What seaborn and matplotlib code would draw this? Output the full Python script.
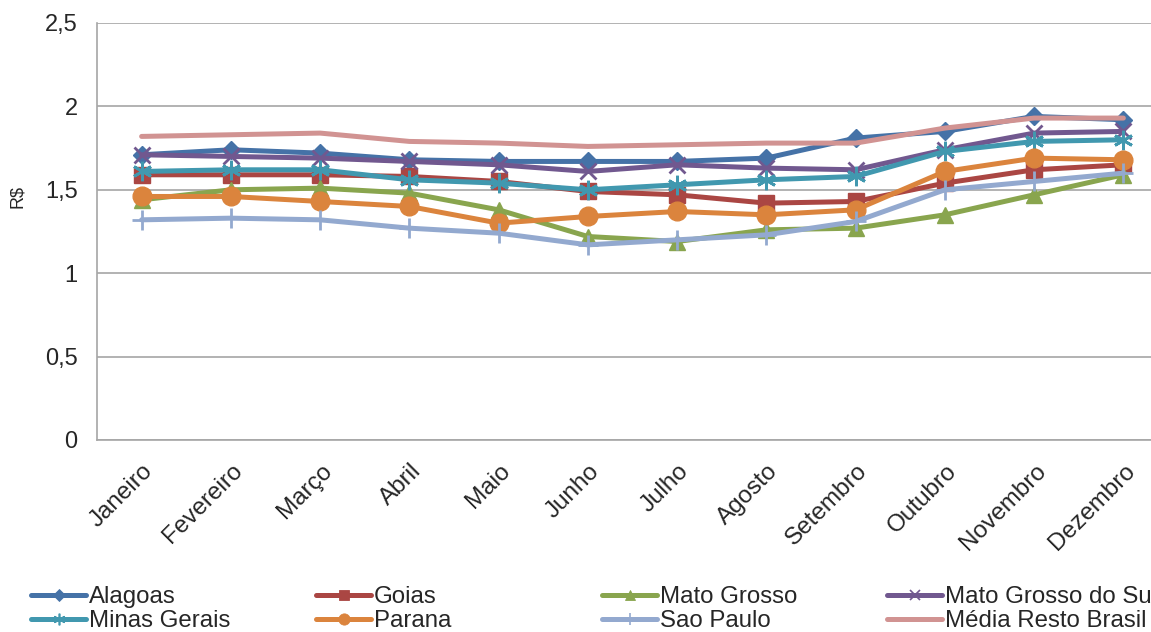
import matplotlib
matplotlib.use("Agg")
import matplotlib.pyplot as plt
import matplotlib.transforms as mtransforms
from matplotlib.lines import Line2D
import seaborn as sns
import pandas as pd

months = ["Janeiro", "Fevereiro", "Março", "Abril", "Maio", "Junho",
          "Julho", "Agosto", "Setembro", "Outubro", "Novembro", "Dezembro"]

alagoas = [1.71, 1.74, 1.72, 1.68, 1.67, 1.67, 1.67, 1.69, 1.81, 1.85, 1.94, 1.92]
goias = [1.59, 1.59, 1.59, 1.58, 1.55, 1.49, 1.47, 1.42, 1.43, 1.54, 1.62, 1.65]
mato_grosso = [1.44, 1.50, 1.51, 1.48, 1.38, 1.22, 1.19, 1.26, 1.27, 1.35, 1.47, 1.59]
mato_grosso_sul = [1.71, 1.70, 1.69, 1.67, 1.65, 1.61, 1.65, 1.63, 1.62, 1.74, 1.84, 1.85]
minas_gerais = [1.61, 1.62, 1.62, 1.56, 1.54, 1.50, 1.53, 1.56, 1.58, 1.73, 1.79, 1.80]
parana = [1.46, 1.46, 1.43, 1.40, 1.30, 1.34, 1.37, 1.35, 1.38, 1.61, 1.69, 1.68]
sao_paulo = [1.32, 1.33, 1.32, 1.27, 1.24, 1.17, 1.20, 1.23, 1.31, 1.50, 1.55, 1.60]
media_resto = [1.82, 1.83, 1.84, 1.79, 1.78, 1.76, 1.77, 1.78, 1.78, 1.87, 1.93, 1.93]

y_ticks = [0, 0.5, 1, 1.5, 2, 2.5]
y_tick_labels = ["0", "0,5", "1", "1,5", "2", "2,5"]

series = [
    ("Alagoas", alagoas, "#4572A7", "D", 9.5, 1.0),
    ("Goias", goias, "#AA4643", "s", 12, 1.0),
    ("Mato Grosso", mato_grosso, "#89A54E", "^", 12, 1.0),
    ("Mato Grosso do Sul", mato_grosso_sul, "#71588F", "x", 12, 2.0),
    ("Minas Gerais", minas_gerais, "#4198AF", (6, 2, 0), 14, 2.0),
    ("Parana", parana, "#DB843D", "o", 13.5, 1.0),
    ("Sao Paulo", sao_paulo, "#93A9CF", "+", 14, 2.0),
    ("Média Resto Brasil", media_resto, "#D19392", None, 0, 0),
]

sns.set_style("white")
plt.rcParams["font.family"] = ["Liberation Sans", "DejaVu Sans"]

fig = plt.figure(figsize=(11.51, 6.32), dpi=100)
ax = fig.add_axes([97 / 1151, 192 / 632, 1071 / 1151, 417 / 632])

handles = {}
for name, vals, color, marker, ms, mew in series:
    df = pd.DataFrame({"mes": months, "valor": vals})
    kw = dict(marker=marker, markersize=ms, markeredgewidth=mew,
              markeredgecolor=color, markerfacecolor=color) if marker else {}
    sns.lineplot(data=df, x="mes", y="valor", ax=ax, color=color,
                 linewidth=3.6, sort=False, legend=False, **kw)
    handles[name] = Line2D([], [], color=color, linewidth=3.6,
                           marker=marker if marker else None,
                           markersize=ms * 0.6 if marker else 0,
                           markeredgewidth=mew * 0.6, markeredgecolor=color,
                           markerfacecolor=color)

ax.set_xlim(-0.5, 11.5)
ax.set_ylim(0, 2.5)
ax.set_yticks(y_ticks)
ax.set_yticklabels(y_tick_labels)
ax.yaxis.grid(True, color="#A6A6A6", linewidth=1.2)
ax.set_axisbelow(True)
for side in ["top", "right"]:
    ax.spines[side].set_visible(False)
for side in ["left", "bottom"]:
    ax.spines[side].set_color("#A6A6A6")
    ax.spines[side].set_linewidth(1.2)

ax.tick_params(axis="y", length=0, pad=14, labelsize=17)
ax.tick_params(axis="x", length=0, pad=20, labelsize=17.5)
shift = mtransforms.ScaledTranslation(6 / 72, 0, fig.dpi_scale_trans)
for lbl in ax.get_xticklabels():
    lbl.set_rotation(45)
    lbl.set_ha("right")
    lbl.set_va("center")
    lbl.set_rotation_mode("anchor")
    lbl.set_transform(lbl.get_transform() + shift)

ax.set_xlabel("")
ax.set_ylabel("R$", fontsize=13)
ax.yaxis.set_label_coords(-0.066, 0.585)

# legend: four evenly spaced columns of two entries each along the bottom
columns = [
    (["Alagoas", "Minas Gerais"], 31),
    (["Goias", "Parana"], 316),
    (["Mato Grosso", "Sao Paulo"], 602),
    (["Mato Grosso do Sul", "Média Resto Brasil"], 887),
]
for names, x0 in columns:
    fig.legend([handles[n] for n in names], names,
               loc="center left", bbox_to_anchor=(x0 / 1151, 1 - 609 / 632),
               frameon=False, fontsize=17.3, handlelength=2.3,
               handletextpad=0.12, labelspacing=0.08, borderpad=0,
               borderaxespad=0)

fig.savefig("out.png", dpi=100)
